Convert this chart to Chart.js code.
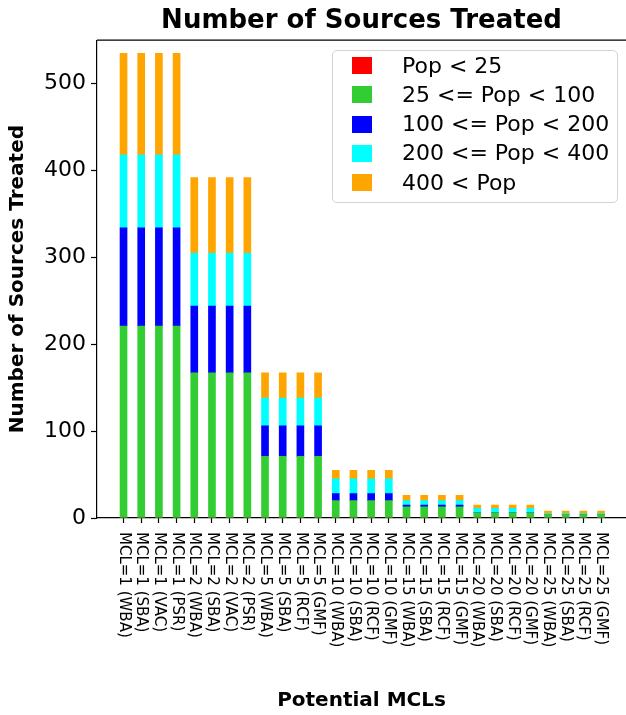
<!DOCTYPE html>
<html>
<head>
<meta charset="utf-8">
<script src="https://cdn.jsdelivr.net/npm/chart.js@4"></script>
<style>
  body { margin: 0; background: #fff; }
  #wrap { position: relative; width: 626px; height: 715px; }
  #legend {
    position: absolute; left: 332px; top: 50px; width: 286px; height: 153px;
    box-sizing: border-box; border: 1.5px solid #d3d3d3; border-radius: 5px;
    background: rgba(255,255,255,0.8);
    font-family: 'DejaVu Sans', sans-serif; font-size: 22px; color: #000;
  }
  .sw { position: absolute; width: 20px; height: 17px; }
  .lb { position: absolute; white-space: nowrap; line-height: 24px; }
</style>
</head>
<body>
<div id="wrap">
  <canvas id="grafica" width="626" height="715"></canvas>
  <div id="legend"></div>
</div>
<script>
// categorias del eje x
const categories = [
    'MCL=1 (WBA)', 'MCL=1 (SBA)', 'MCL=1 (VAC)', 'MCL=1 (PSR)',
    'MCL=2 (WBA)', 'MCL=2 (SBA)', 'MCL=2 (VAC)', 'MCL=2 (PSR)',
    'MCL=5 (WBA)', 'MCL=5 (SBA)', 'MCL=5 (RCF)', 'MCL=5 (GMF)',
    'MCL=10 (WBA)', 'MCL=10 (SBA)', 'MCL=10 (RCF)', 'MCL=10 (GMF)',
    'MCL=15 (WBA)', 'MCL=15 (SBA)', 'MCL=15 (RCF)', 'MCL=15 (GMF)',
    'MCL=20 (WBA)', 'MCL=20 (SBA)', 'MCL=20 (RCF)', 'MCL=20 (GMF)',
    'MCL=25 (WBA)', 'MCL=25 (SBA)', 'MCL=25 (RCF)', 'MCL=25 (GMF)'
];

const popLt25 = [0,0,0,0, 0,0,0,0, 0,0,0,0, 0,0,0,0, 0,0,0,0, 0,0,0,0, 0,0,0,0];
const pop25to100 = [221,221,221,221, 167,167,167,167, 71,71,71,71, 20,20,20,20, 13,13,13,13, 6,6,6,6, 4,4,4,4];
const pop100to200 = [113,113,113,113, 77,77,77,77, 35,35,35,35, 8,8,8,8, 2,2,2,2, 0,0,0,0, 0,0,0,0];
const pop200to400 = [84,84,84,84, 61,61,61,61, 32,32,32,32, 17,17,17,17, 5,5,5,5, 5,5,5,5, 1,1,1,1];
const pop400up = [117,117,117,117, 87,87,87,87, 29,29,29,29, 10,10,10,10, 6,6,6,6, 4,4,4,4, 3,3,3,3];

const seriesLabels = ['Pop < 25', '25 <= Pop < 100', '100 <= Pop < 200', '200 <= Pop < 400', '400 < Pop'];
const seriesColors = ['#ff0000', '#32cd32', '#0000ff', '#00ffff', '#ffa500'];
const yTicks = [0, 100, 200, 300, 400, 500];

const FONT = "'DejaVu Sans', sans-serif";

function toPoints(values) {
    return values.map((v, i) => ({ x: i, y: v }));
}

// etiquetas del eje x giradas (de arriba hacia abajo) y borde superior
const extras = {
    id: 'extras',
    afterDraw(chart) {
        const ctx = chart.ctx;
        const area = chart.chartArea;
        const xs = chart.scales.x;
        ctx.save();
        ctx.strokeStyle = '#000';
        ctx.lineWidth = 1.2;
        ctx.beginPath();
        ctx.moveTo(area.left, area.top);
        ctx.lineTo(area.right, area.top);
        ctx.stroke();

        ctx.fillStyle = '#000';
        ctx.font = '15px ' + FONT;
        ctx.textAlign = 'left';
        ctx.textBaseline = 'middle';
        categories.forEach((label, i) => {
            ctx.save();
            ctx.translate(xs.getPixelForValue(i), area.bottom + 14);
            ctx.rotate(Math.PI / 2);
            ctx.fillText(label, 0, 0);
            ctx.restore();
        });
        ctx.restore();
    }
};

const allSeries = [popLt25, pop25to100, pop100to200, pop200to400, pop400up];

const data = {
    datasets: allSeries.map((vals, k) => ({
        label: seriesLabels[k],
        data: toPoints(vals),
        backgroundColor: seriesColors[k],
        borderWidth: 0,
        barThickness: 7
    }))
};

const config = {
    type: 'bar',
    data: data,
    options: {
        responsive: false,
        animation: false,
        layout: { padding: 0 },
        plugins: {
            legend: { display: false },
            tooltip: { enabled: false },
            title: {
                display: true,
                text: 'Number of Sources Treated',
                color: '#000',
                fullSize: false,
                font: { family: FONT, size: 26, weight: 'bold' },
                padding: { top: 6, bottom: 3 }
            }
        },
        scales: {
            x: {
                type: 'linear',
                stacked: true,
                offset: false,
                min: -1.5,
                max: 28.41,
                afterBuildTicks: (scale) => {
                    scale.ticks = categories.map((c, i) => ({ value: i }));
                },
                afterFit: (scale) => { scale.height = 197; },
                ticks: { display: false },
                grid: { display: true, offset: false, drawOnChartArea: false, drawTicks: true, tickLength: 5, tickColor: '#000', tickWidth: 1.2 },
                border: { display: true, color: '#000', width: 1.2 },
                title: {
                    display: true,
                    text: 'Potential MCLs',
                    color: '#000',
                    font: { family: FONT, size: 20, weight: 'bold' },
                    padding: { top: 0, bottom: 2 }
                }
            },
            y: {
                stacked: true,
                min: 0,
                max: 550,
                afterBuildTicks: (scale) => {
                    scale.ticks = yTicks.map(v => ({ value: v }));
                },
                afterFit: (scale) => { scale.width = 97; },
                ticks: { color: '#000', padding: 5, font: { family: FONT, size: 22 } },
                grid: { display: true, drawOnChartArea: false, drawTicks: true, tickLength: 6, tickColor: '#000', tickWidth: 1.2 },
                border: { display: true, color: '#000', width: 1.2 },
                title: {
                    display: true,
                    text: 'Number of Sources Treated',
                    color: '#000',
                    font: { family: FONT, size: 20, weight: 'bold' },
                    padding: { top: 6, bottom: 0 }
                }
            }
        }
    },
    plugins: [extras]
};

const financeChart = new Chart(document.getElementById('grafica'), config);

// leyenda dentro del area del grafico
const legend = document.getElementById('legend');
seriesLabels.forEach((label, k) => {
    const top = 6 + k * 29.3;
    const sw = document.createElement('div');
    sw.className = 'sw';
    sw.style.left = '19px';
    sw.style.top = top + 'px';
    sw.style.background = seriesColors[k];
    legend.appendChild(sw);
    const lb = document.createElement('div');
    lb.className = 'lb';
    lb.style.left = '69px';
    lb.style.top = (top - 3.5) + 'px';
    lb.textContent = label;
    legend.appendChild(lb);
});
</script>
</body>
</html>
